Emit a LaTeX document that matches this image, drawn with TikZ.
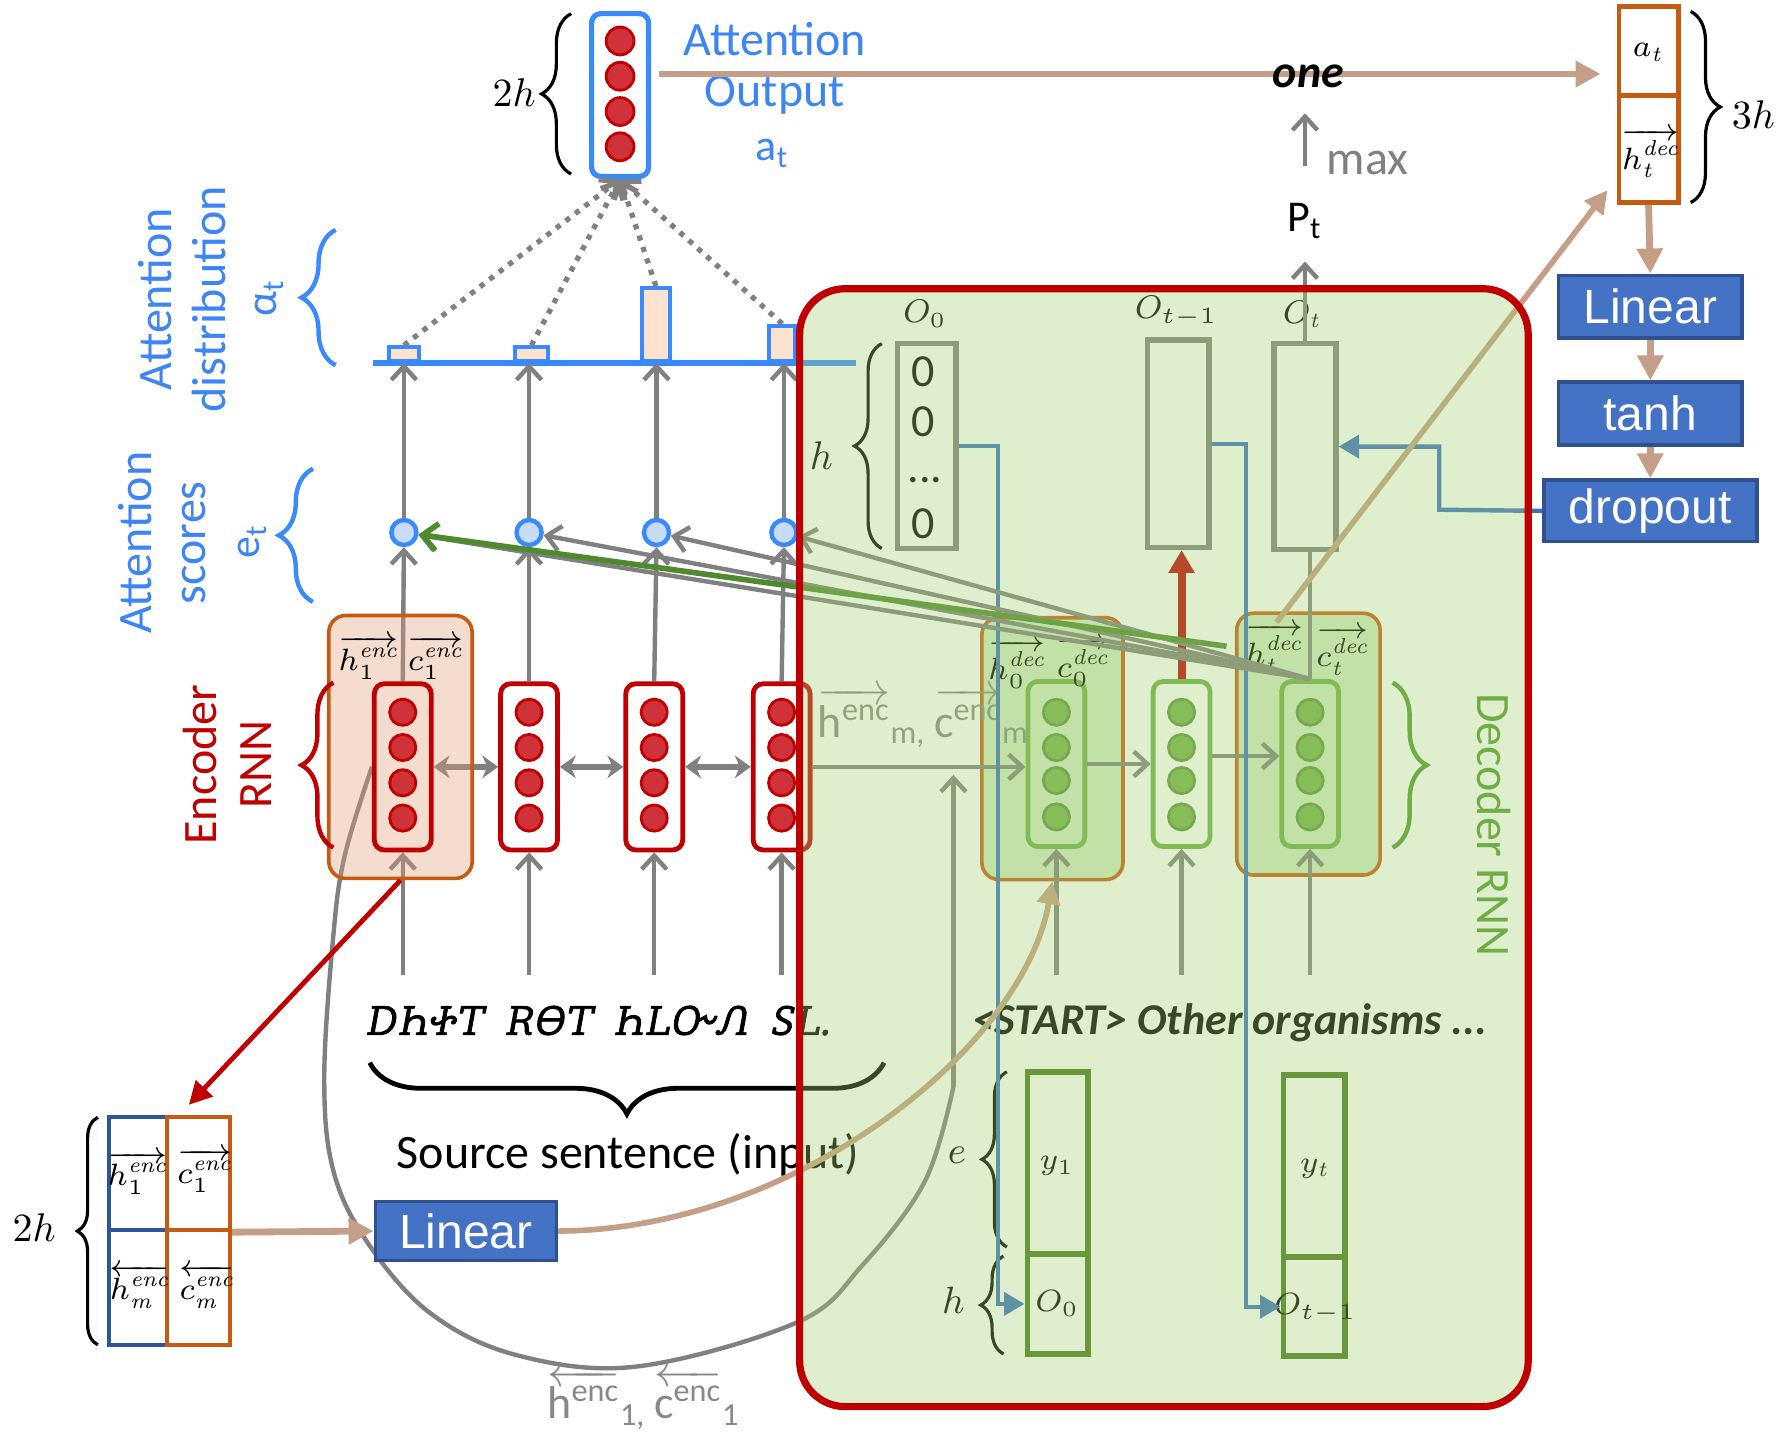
\RequirePackage{fix-cm}
\documentclass[tikz,border=0pt]{standalone}
\usepackage{fontspec}
\usepackage{amsmath}
\usetikzlibrary{arrows.meta,decorations.pathreplacing,calc}
\newfontfamily\carl{Carlito}
\newfontfamily\libs{Liberation Sans}
\IfFontExistsTF{Noto Sans Cherokee}
  {\newfontfamily\chr{Noto Sans Cherokee}[FakeSlant=0.18,FakeBold=2]}
  {\IfFontExistsTF{FreeSerif.otf}
     {\newfontfamily\chr{FreeSerif.otf}[FakeSlant=0.12,FakeBold=3.5]}
     {\newfontfamily\chr{DejaVu Sans}[FakeSlant=0.15]}}
\newcommand\smx[1]{\mbox{\fontsize{5.4}{6}\selectfont\itshape #1}}
\newcommand\smd[1]{\mbox{\fontsize{5.4}{6}\selectfont #1}}
\newcommand\smo[1]{\mbox{\fontsize{5.8}{7}\selectfont$#1$}}
\definecolor{attblue}{RGB}{61,133,245}
\definecolor{attbox}{RGB}{58,138,255}
\definecolor{encred}{RGB}{192,0,0}
\definecolor{circred}{RGB}{208,50,58}
\definecolor{peachov}{RGB}{224,158,115}
\definecolor{peachb}{RGB}{197,90,17}
\definecolor{arrgray}{RGB}{128,128,128}
\definecolor{tanc}{RGB}{196,158,134}
\definecolor{boxblue}{RGB}{68,114,196}
\definecolor{boxblueb}{RGB}{47,82,143}
\definecolor{decgreen}{RGB}{112,173,71}
\definecolor{decgreenc}{RGB}{118,178,78}
\definecolor{ovl}{RGB}{166,212,112}
\definecolor{stblue}{RGB}{58,111,192}
\definecolor{dkgreen}{RGB}{71,120,32}
\definecolor{grnarr}{RGB}{79,138,46}
\definecolor{circblue}{RGB}{198,220,248}
\definecolor{barfill}{RGB}{251,227,208}
\definecolor{dpfill}{RGB}{210,232,198}
\definecolor{blcol}{RGB}{47,85,151}
\definecolor{lblgray}{RGB}{136,136,136}
\pgfdeclarelayer{under}
\pgfdeclarelayer{peach}
\pgfdeclarelayer{ovlay}
\pgfdeclarelayer{top}
\pgfsetlayers{under,peach,main,ovlay,top}
\begin{document}
\begin{tikzpicture}[x=0.01cm,y=0.01cm,
  cellE/.style={draw=encred,line width=1.2pt,rounded corners=2.5pt,minimum width=0.5cm,minimum height=1.46cm,inner sep=0pt},
  circE/.style={circle,fill=circred,draw=encred,line width=0.7pt,minimum size=0.23cm,inner sep=0pt},
  cellD/.style={draw=decgreen,line width=1.2pt,rounded corners=2.5pt,minimum width=0.5cm,minimum height=1.45cm,inner sep=0pt},
  circD/.style={circle,fill=decgreenc,draw=decgreen!85!black,line width=0.7pt,minimum size=0.23cm,inner sep=0pt},
  scirc/.style={circle,fill=circblue,draw=attbox,line width=1.1pt,minimum size=0.22cm,inner sep=0pt},
  barbox/.style={draw=attbox,fill=barfill,line width=1pt,minimum width=0.26cm,inner sep=0pt,anchor=south},
  obox/.style={draw=arrgray,line width=1.4pt,inner sep=0pt},
  bbox/.style={draw=dkgreen,line width=1.4pt,inner sep=0pt},
  bluebox/.style={fill=boxblue,draw=boxblueb,line width=0.9pt,inner sep=0pt,text=white,font=\libs\fontsize{12}{14}\selectfont},
  garr/.style={draw=arrgray,line width=1.1pt,-{Straight Barb[length=1.2mm,width=2.2mm]}},
  gline/.style={draw=arrgray,line width=1.1pt},
  dblarr/.style={draw=arrgray,line width=1.4pt,{Stealth[length=1.4mm,width=2mm]}-{Stealth[length=1.4mm,width=2mm]}},
  dotarr/.style={draw=arrgray,line width=1.3pt,dash pattern=on 1.3pt off 1.7pt,-{Straight Barb[length=1.2mm,width=2.2mm]}},
  tanarr/.style={draw=tanc,line width=1.7pt,-{Triangle[length=2.2mm,width=2.2mm]}},
  tanarrc/.style={draw=tanc,line width=1.4pt,-{Triangle[length=2mm,width=2mm]}},
  bluarr/.style={draw=stblue,line width=1.1pt,-{Triangle[length=1.8mm,width=2mm]}},
  redarr/.style={draw=encred,line width=1.2pt,-{Triangle[length=2mm,width=2mm]}},
  redarrd/.style={draw=encred,line width=2pt,-{Triangle[length=2mm,width=2.2mm]}},
  grnarrow/.style={draw=grnarr,line width=1.4pt,-{Straight Barb[length=1.3mm,width=2.4mm]}},
  bracedec/.style={decorate,decoration={brace,amplitude=#1}},
  lab12/.style={font=\carl\fontsize{12}{13.7}\selectfont},
  mlab/.style={font=\fontsize{7.7}{9}\selectfont},
  mlab10/.style={font=\fontsize{10}{12}\selectfont}
]
\begin{pgfonlayer}{under}
\fill[white] (0,0) rectangle (1568,-1265);
\end{pgfonlayer}
\useasboundingbox (0,0) rectangle (1568,-1265);

\coordinate (dl0) at (328,-319);
\coordinate (dl1) at (752,-319);
\coordinate (inrow) at (0,-857);
\coordinate (oneline) at (0,-65);

% ---------------- encoder ----------------
\begin{pgfonlayer}{peach}
\node[draw=peachb,line width=0.9pt,fill=peachov,fill opacity=0.35,draw opacity=1,rounded corners=0.15cm,minimum width=1.26cm,minimum height=2.31cm] (ep) at (352,-656.5) {};
\end{pgfonlayer}
\foreach \xx/\nm in {354/e1,465/e2,575/e3,687/e4}{
  \node[cellE] (\nm) at (\xx,-674) {};
  \foreach \yy [count=\k] in {626,657,688,719}
    \node[circE] (\nm-\k) at (\xx,-\yy) {};
}
\node[mlab] (h1e) at (324,-578) {$\overrightarrow{h_{\smd{1}}^{\smx{enc}}}$};
\node[mlab] (c1e) at (383,-578) {$\overrightarrow{c_{\smd{1}}^{\smx{enc}}}$};

% attention scores
\foreach \xx [count=\k] in {355,465,577,689}
  \node[scirc] (s\k) at (\xx,-468) {};
% distribution line and bars
\draw[attbox,line width=1.6pt] (dl0) -- (dl1);
\node[barbox,minimum height=0.12cm] (b1) at (355,-319) {};
\node[barbox,minimum height=0.12cm,minimum width=0.29cm] (b2) at (467,-319) {};
\node[barbox,minimum height=0.64cm,minimum width=0.25cm] (b3) at (576.5,-319) {};
\node[barbox,minimum height=0.31cm,minimum width=0.23cm] (b4) at (687.5,-319) {};

\begin{pgfonlayer}{under}
\foreach \k in {1,2,3,4}{
  \draw[garr] (e\k.north) -- (s\k.south);
  \draw[garr] (e\k.south |- inrow) -- (e\k.south);
}
\draw[dblarr] (e1.east) -- (e2.west);
\draw[dblarr] (e2.east) -- (e3.west);
\draw[dblarr] (e3.east) -- (e4.west);
\draw[gline] (e1.west) plot[smooth,tension=0.6] coordinates {(e1.west) (303,-752) (293,-822) (285,-947) (293,-1029) (323,-1092) (378,-1154) (454,-1191) (560,-1201) (701,-1162) (758,-1112) (813,-1038) (838,-955)};
\end{pgfonlayer}
\coordinate (hc) at (838,-681);
\draw[garr] (838,-955) -- (hc);
\foreach \k in {1,2,3,4}
  \draw[garr] (s\k.north) -- (s\k.north |- dl0);

% attention output
\node[draw=attbox,line width=1.3pt,fill=white,rounded corners=0.08cm,minimum width=0.5cm,minimum height=1.43cm,inner sep=0pt] (ao) at (545,-83.5) {};
\foreach \yy [count=\k] in {36,67,98,129}
  \node[circE,minimum size=0.245cm] (ao-\k) at (545,-\yy) {};
\foreach \k in {1,2,3,4}
  \draw[dotarr] (b\k.north) -- (ao.south);
\draw[bracedec=0.26cm,black,line width=0.8pt] (502,-153) -- (502,-12);
\node[mlab10] (lbl2h) at (452,-81) {$2h$};
\node[lab12,text=attblue] (tatt) at (681,-34) {Attention};
\node[lab12,text=attblue] (tout) at (681,-83) {Output};
\node[font=\carl\fontsize{11}{13}\selectfont,text=attblue] (tat) at (679,-135) {a\textsubscript{t}};

% left labels
\node[lab12,text=attblue,rotate=90,align=center] (adist) at (160,-263) {Attention\\distribution};
\node[lab12,text=attblue,rotate=90,align=center] (ascore) at (142.5,-477) {Attention\\scores};
\node[lab12,text=encred,rotate=90,align=center] (encl) at (199.5,-672) {Encoder\\RNN};
\node[font=\carl\fontsize{11}{13}\selectfont,text=attblue,rotate=90] (alab) at (237,-262) {α\textsubscript{t}};
\node[font=\carl\fontsize{11}{13}\selectfont,text=attblue,rotate=90] (elab) at (222,-476) {e\textsubscript{t}};
\draw[bracedec=0.3cm,attbox,line width=1.1pt] (295,-321) -- (295,-202);
\draw[bracedec=0.3cm,attbox,line width=1.1pt] (275,-529) -- (275,-412);
\draw[bracedec=0.28cm,encred,line width=1.1pt] (293,-745) -- (293,-600);

% source sentence
\node[font=\chr\fontsize{10}{12}\selectfont] (src) at (525,-897) {ᎠᏂᏐᎢ\ \ ᎡᎾᎢ\ \ ᏂᏞᏅᏁ\ \ ᏚᏞ.};
\draw[bracedec=0.45cm,black,line width=1.2pt] (777,-934) -- (325,-934);
\node[lab12] (srcl) at (552,-1015) {Source sentence (input)};

% bottom-left state box
\node[draw=blcol,line width=1.1pt,minimum width=0.51cm,minimum height=0.99cm,inner sep=0pt] (bl1) at (121.5,-1031.5) {};
\node[draw=blcol,line width=1.1pt,minimum width=0.51cm,minimum height=1.01cm,inner sep=0pt] (bl3) at (121.5,-1131.5) {};
\node[draw=peachb,line width=1.1pt,minimum width=0.55cm,minimum height=0.99cm,inner sep=0pt] (bl2) at (174.5,-1031.5) {};
\node[draw=peachb,line width=1.1pt,minimum width=0.55cm,minimum height=1.01cm,inner sep=0pt] (bl4) at (174.5,-1131.5) {};
\node[mlab] (blh1) at (121,-1031) {$\overrightarrow{h_{\smd{1}}^{\smx{enc}}}$};
\node[mlab] (blc1) at (180,-1029) {$\overrightarrow{c_{\smd{1}}^{\smx{enc}}}$};
\node[mlab] (blhm) at (123,-1131) {$\overleftarrow{h_{\smx{m}}^{\smx{enc}}}$};
\node[mlab] (blcm) at (182,-1131) {$\overleftarrow{c_{\smx{m}}^{\smx{enc}}}$};
\draw[bracedec=0.18cm,black,line width=0.8pt] (86,-1182) -- (86,-982);
\node[mlab10] (lbl2hb) at (30,-1079) {$2h$};
\node[bluebox,minimum width=1.59cm,minimum height=0.52cm] (lin2) at (409.5,-1082) {Linear};
\draw[tanarr] (bl2.south east) -- (lin2.west);
\coordinate (rtip) at (166,-971);
\draw[redarr] (ep.south) -- (rtip);
\node[font=\carl\fontsize{11.5}{13}\selectfont,text=lblgray] (h1lbl) at (566,-1230) {$\overleftarrow{\mbox{h\textsuperscript{enc}}}$\textsubscript{1,}\,$\overleftarrow{\mbox{c\textsuperscript{enc}}}$\textsubscript{1}};

% ---------------- decoder ----------------
\node[draw=peachb,line width=0.9pt,fill=dpfill,rounded corners=0.15cm,minimum width=1.24cm,minimum height=2.3cm] (dp1) at (925,-658) {};
\node[draw=peachb,line width=0.9pt,fill=dpfill,rounded corners=0.15cm,minimum width=1.26cm,minimum height=2.3cm] (dp3) at (1150,-654) {};
\foreach \xx/\nm in {928.5/d1,1038.5/d2,1151.5/d3}{
  \node[cellD] (\nm) at (\xx,-671.5) {};
  \foreach \yy [count=\k] in {626,657,686,718}
    \node[circD] (\nm-\k) at (\xx,-\yy) {};
}
\node[mlab] (h0d) at (894,-584) {$\overrightarrow{h_{\smd{0}}^{\smx{dec}}}$};
\node[mlab] (c0d) at (952,-582) {$\overrightarrow{c_{\smd{0}}^{\smx{dec}}}$};
\node[mlab] (htd) at (1120,-570) {$\overrightarrow{h_{\smx{t}}^{\smx{dec}}}$};
\node[mlab] (ctd) at (1180,-572) {$\overrightarrow{c_{\smx{t}}^{\smx{dec}}}$};
\node[font=\carl\fontsize{11.5}{13}\selectfont,text=lblgray] (hmlbl) at (812,-631) {$\overrightarrow{\mbox{h\textsuperscript{enc}}}$\textsubscript{m,}\,$\overrightarrow{\mbox{c\textsuperscript{enc}}}$\textsubscript{m}};
\draw[garr] (e4.east) -- (e4.east -| d1.west);
\draw[garr] (d1.east) -- (d2.west);
\draw[garr] ([yshift=0.07cm]d2.east) -- ([yshift=0.07cm]d3.west);
\foreach \k in {1,2,3}
  \draw[garr] (d\k.south |- inrow) -- (d\k.south);

% output boxes
\node[obox,minimum width=0.51cm,minimum height=1.8cm] (o0) at (814.5,-392) {};
\node[obox,minimum width=0.54cm,minimum height=1.82cm] (ot1) at (1035.5,-390) {};
\node[obox,minimum width=0.54cm,minimum height=1.81cm] (ot) at (1147,-392.5) {};
\node[font=\carl\fontsize{11.5}{13}\selectfont] (z1) at (811,-327) {0};
\node[font=\carl\fontsize{11.5}{13}\selectfont] (z2) at (811,-371) {0};
\node[font=\carl\fontsize{11.5}{13}\selectfont] (z3) at (813,-422) {...};
\node[font=\carl\fontsize{11.5}{13}\selectfont] (z4) at (811,-460) {0};
\node[font=\fontsize{8.2}{10}\selectfont] (lo0) at (813,-276) {$O_{\smd{0}}$};
\node[font=\fontsize{8.2}{10}\selectfont] (lot1) at (1034,-274) {$O_{\smo{t{-}1}}$};
\node[font=\fontsize{8.2}{10}\selectfont] (lot) at (1144,-276) {$O_{\smx{t}}$};
\draw[bracedec=0.24cm,black,line width=0.8pt] (775,-482) -- (775,-302);
\node[mlab10] (lh) at (722,-400) {$h$};

% bottom decoder input boxes
\node[bbox,minimum width=0.53cm,minimum height=1.6cm] (b1y) at (929.5,-1022) {};
\node[bbox,minimum width=0.53cm,minimum height=0.88cm] (b1o) at (929.5,-1146) {};
\node[bbox,minimum width=0.54cm,minimum height=1.6cm] (b2y) at (1155,-1025) {};
\node[bbox,minimum width=0.54cm,minimum height=0.87cm] (b2o) at (1155,-1148.5) {};
\node[mlab] (ly1) at (929,-1025) {$y_{\smd{1}}$};
\node[mlab] (lo0b) at (929,-1146) {$O_{\smd{0}}$};
\node[mlab] (lyt) at (1155,-1027) {$y_{\smx{t}}$};
\node[mlab] (lot1b) at (1156,-1150) {$O_{\smo{t{-}1}}$};
\draw[bracedec=0.22cm,black,line width=0.8pt] (885,-1096) -- (885,-942);
\draw[bracedec=0.2cm,black,line width=0.8pt] (882,-1190) -- (882,-1104);
\node[font=\fontsize{9.5}{11}\selectfont] (le) at (841,-1015) {$e$};
\node[font=\fontsize{9.5}{11}\selectfont] (lhb) at (838,-1143) {$h$};
\node[font=\carl\bfseries\itshape\fontsize{11}{13}\selectfont] (tgt) at (1081,-899) {<START> Other organisms ...};

% decoder connectors
\coordinate (bl1c) at (877,-1146);
\coordinate (bl2c) at (1095,-1148.5);
\draw[bluarr] (o0.east) -| (bl1c) -- (b1o.west);
\draw[bluarr] (ot1.east) -| (bl2c) -- (b2o.west);
\draw[redarrd] (d2.north) -- (d2.north |- ot1.south);
\draw[gline] (d3.north) -- (d3.north |- ot.south);
\foreach \k in {1,2,3,4}
  \draw[garr] (d3.north) -- (s\k);
\coordinate (gst) at (1078,-568);
\draw[grnarrow] (gst) -- (s1);
\draw[tanarrc] (lin2.east) .. controls (700,-1081) and (900,-920) .. (dp1.south);

% right column
\node[draw=peachb,line width=1.2pt,minimum width=0.52cm,minimum height=0.78cm,inner sep=0pt] (tra) at (1449,-45) {};
\node[draw=peachb,line width=1.2pt,minimum width=0.52cm,minimum height=0.94cm,inner sep=0pt] (trh) at (1449,-131) {};
\node[mlab] (lat) at (1448,-46) {$a_{\smx{t}}$};
\node[mlab] (lht) at (1451,-135) {$\overrightarrow{h_{\smx{t}}^{\smx{dec}}}$};
\draw[bracedec=0.26cm,black,line width=0.8pt] (1486,-10) -- (1486,-178);
\node[mlab10] (lbl3h) at (1541,-101) {$3h$};
\node[bluebox,minimum width=1.61cm,minimum height=0.55cm] (lin1) at (1450.5,-269.5) {Linear};
\node[bluebox,minimum width=1.61cm,minimum height=0.55cm] (tanh) at (1450.5,-363.5) {tanh};
\node[bluebox,minimum width=1.87cm,minimum height=0.54cm] (drop) at (1450.5,-449) {dropout};
\draw[tanarr] (trh.south) -- (lin1.north);
\draw[tanarr] (lin1.south) -- (tanh.north);
\draw[tanarr] (tanh.south) -- (drop.north);
\coordinate (bk) at (1265,-448);
\draw[bluarr] (drop.west) -- (bk) |- (ot.east);
\coordinate (tst) at (1122,-547);
\draw[tanarrc] (tst) -- ($(trh.south west)+(-8,13)$);
\draw[tanarr] ($(ao.east |- oneline)+(7,0)$) -- ($(tra.west |- oneline)+(-14,0)$);
\node[font=\carl\bfseries\itshape\fontsize{11.5}{13}\selectfont] (one) at (1150,-67) {one};
\node[font=\carl\fontsize{11}{13}\selectfont] (pt) at (1147,-194) {P\textsubscript{t}};
\draw[garr,shorten <=0.2cm,shorten >=0.1cm] (pt.north) -- (pt.north |- one.south);
\node[lab12,text=arrgray] (maxl) at (1202,-143) {max};
\draw[garr,shorten >=0.08cm] (ot.north) -- (ot.north |- pt.south);

% overlay
\begin{pgfonlayer}{ovlay}
\node[draw=encred,line width=1.8pt,fill=ovl,fill opacity=0.35,draw opacity=1,rounded corners=0.4cm,minimum width=6.4cm,minimum height=9.82cm,inner sep=0pt] (decr) at (1023,-745) {};
\end{pgfonlayer}
\begin{pgfonlayer}{top}
\node[lab12,text=decgreen,rotate=-90] (decl) at (1313,-725) {Decoder RNN};
\draw[bracedec=0.3cm,decgreen,line width=1.1pt] (1224,-600) -- (1224,-745);
\end{pgfonlayer}
\end{tikzpicture}
\end{document}
